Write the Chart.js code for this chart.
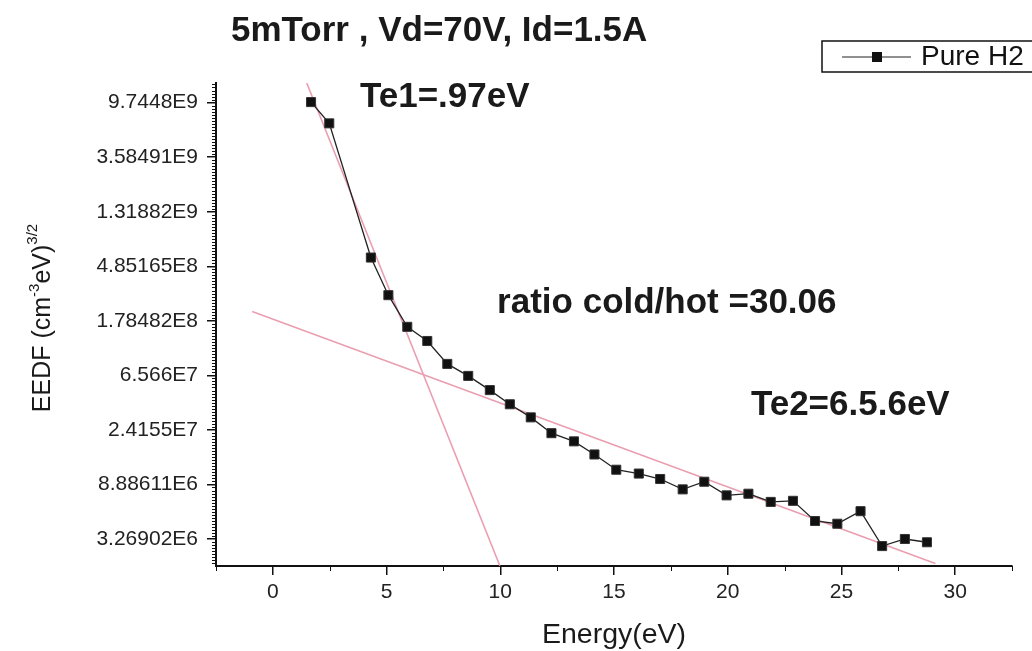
<!DOCTYPE html>
<html>
<head>
<meta charset="utf-8">
<title>EEDF Pure H2</title>
<script src="https://cdn.jsdelivr.net/npm/chart.js@4"></script>
<style>
body{margin:0;background:#fff;}
#wrap{width:1032px;height:651px;position:relative;}
</style>
</head>
<body>
<div id="wrap"><canvas id="eedfChart"></canvas></div>
<script>

// measured points (energy in eV, EEDF)
const energy = [1.68,2.48,4.31,5.08,5.91,6.79,7.67,8.59,9.54,10.42,11.34,12.25,13.24,14.14,15.10,16.09,17.03,18.02,18.97,19.95,20.91,21.89,22.87,23.84,24.82,25.84,26.79,27.79,28.76];
const eedf = [9.843e9,6.664e9,5.694e8,2.856e8,1.599e8,1.233e8,8.100e7,6.501e7,5.012e7,3.865e7,3.040e7,2.275e7,1.958e7,1.540e7,1.164e7,1.085e7,9.821e6,8.121e6,9.342e6,7.275e6,7.497e6,6.453e6,6.583e6,4.547e6,4.325e6,5.444e6,2.871e6,3.269e6,3.079e6];

// the two straight fits (cold and hot electrons)
const fitColdX = [1.49,9.98];
const fitColdY = [1.397e10,2.003e6];
const fitHotX = [-0.91,29.13];
const fitHotY = [2.116e8,2.084e6];

const xTicks = [0,5,10,15,20,25,30];
const yTickValues = [3269017.37,8886110.52,24154952.75,65659969.14,178482301.0,485165195.4,1318815734,3584912846,9744803446];
const yTickLabels = ["3.26902E6","8.88611E6","2.4155E7","6.566E7","1.78482E8","4.85165E8","1.31882E9","3.58491E9","9.7448E9"];

const titleText = "5mTorr , Vd=70V, Id=1.5A";
const notes = [
{text:"Te1=.97eV",x:3.83,y:1.070e10},
{text:"ratio cold/hot =30.06",x:9.86,y:2.464e8},
{text:"Te2=6.5.6eV",x:21.02,y:3.781e7}
];

const pink = "rgb(234,158,176)";
const font = "'Liberation Sans', Arial, sans-serif";

function pairs(xs,ys){
return xs.map((x,i)=>({x:x,y:ys[i]}));
}

const extras = {
id:"extras",
afterDraw(chart){

const ctx = chart.ctx;
const xs = chart.scales.x;
const ys = chart.scales.y;
const area = chart.chartArea;

ctx.save();

// minor ticks
ctx.strokeStyle = "#111";
ctx.lineWidth = 1;
ctx.beginPath();
for(let v=-2.5; v<=32.5; v+=5){
const px = Math.round(xs.getPixelForValue(v))+0.5;
ctx.moveTo(px,area.bottom);
ctx.lineTo(px,area.bottom+5);
}
const lnMin = Math.log(ys.min);
const lnMax = Math.log(ys.max);
for(let k=Math.ceil(lnMin*18); k<=lnMax*18; k++){
if(k%18===0) continue;
const py = Math.round(ys.getPixelForValue(Math.exp(k/18)))+0.5;
ctx.moveTo(area.left-4,py);
ctx.lineTo(area.left,py);
}
ctx.stroke();

// title
ctx.fillStyle = "#1a1a1a";
ctx.textBaseline = "middle";
ctx.textAlign = "left";
ctx.font = "bold 35px "+font;
ctx.fillText(titleText,231,31);

// notes
notes.forEach(n=>{
ctx.fillText(n.text,xs.getPixelForValue(n.x),ys.getPixelForValue(n.y));
});

// x title
ctx.font = "28.5px "+font;
ctx.textAlign = "center";
ctx.textBaseline = "alphabetic";
ctx.fillText("Energy(eV)",614,643);

// y title with superscripts
ctx.translate(50,318);
ctx.rotate(-Math.PI/2);
const big = "25px "+font;
const small = "15px "+font;
const parts = [["EEDF (cm",big,0],["-3",small,-11],["eV)",big,0],["3/2",small,-13]];
let total = 0;
parts.forEach(p=>{ctx.font = p[1]; total += ctx.measureText(p[0]).width;});
let cx = -total/2;
ctx.textAlign = "left";
parts.forEach(p=>{
ctx.font = p[1];
ctx.fillText(p[0],cx,p[2]);
cx += ctx.measureText(p[0]).width;
});
ctx.setTransform(1,0,0,1,0,0);

// legend box
ctx.strokeStyle = "#111";
ctx.lineWidth = 1.5;
ctx.strokeRect(822,41,230,31);
ctx.lineWidth = 1.2;
ctx.strokeStyle = "#222";
ctx.beginPath();
ctx.moveTo(842,57);
ctx.lineTo(911,57);
ctx.stroke();
ctx.fillStyle = "#111";
ctx.fillRect(872,52,10,10);
ctx.font = "28px "+font;
ctx.textBaseline = "middle";
ctx.fillText("Pure H2",921,57);

ctx.restore();

}
};

new Chart(document.getElementById("eedfChart"),{

type:"line",

data:{
datasets:[
{
label:"Pure H2",
data:pairs(energy,eedf),
borderColor:"#222",
borderWidth:1.3,
pointStyle:"rect",
pointRadius:6.4,
pointBackgroundColor:"#111",
pointBorderColor:"#333",
pointBorderWidth:1,
tension:0,
order:1
},
{
label:"fit cold",
data:pairs(fitColdX,fitColdY),
borderColor:pink,
borderWidth:1.6,
pointRadius:0,
order:2
},
{
label:"fit hot",
data:pairs(fitHotX,fitHotY),
borderColor:pink,
borderWidth:1.6,
pointRadius:0,
order:2
}
]
},

plugins:[extras],

options:{
responsive:true,
maintainAspectRatio:false,
animation:false,
layout:{padding:{top:83,right:20,left:0,bottom:0}},
plugins:{
legend:{display:false},
title:{display:false},
tooltip:{enabled:false}
},
scales:{
x:{
type:"linear",
min:-2.5,
max:32.5,
afterBuildTicks:s=>{s.ticks = xTicks.map(v=>({value:v}));},
afterFit:s=>{s.height = 85;},
border:{display:true,color:"#111",width:2},
grid:{drawOnChartArea:false,drawTicks:true,tickLength:9,color:"#111",lineWidth:1.5},
ticks:{autoSkip:false,maxRotation:0,padding:5,color:"#222",font:{family:font,size:21}}
},
y:{
type:"logarithmic",
min:Math.exp(14.505),
max:Math.exp(23.36),
afterBuildTicks:s=>{s.ticks = yTickValues.map(v=>({value:v}));},
afterFit:s=>{s.width = 216;},
border:{display:true,color:"#111",width:2},
grid:{drawOnChartArea:false,drawTicks:true,tickLength:9,color:"#111",lineWidth:1.5},
ticks:{autoSkip:false,padding:9,color:"#222",font:{family:font,size:21},
callback:(v,i)=>yTickLabels[i]}
}
}
}

});

</script>
</body>
</html>
